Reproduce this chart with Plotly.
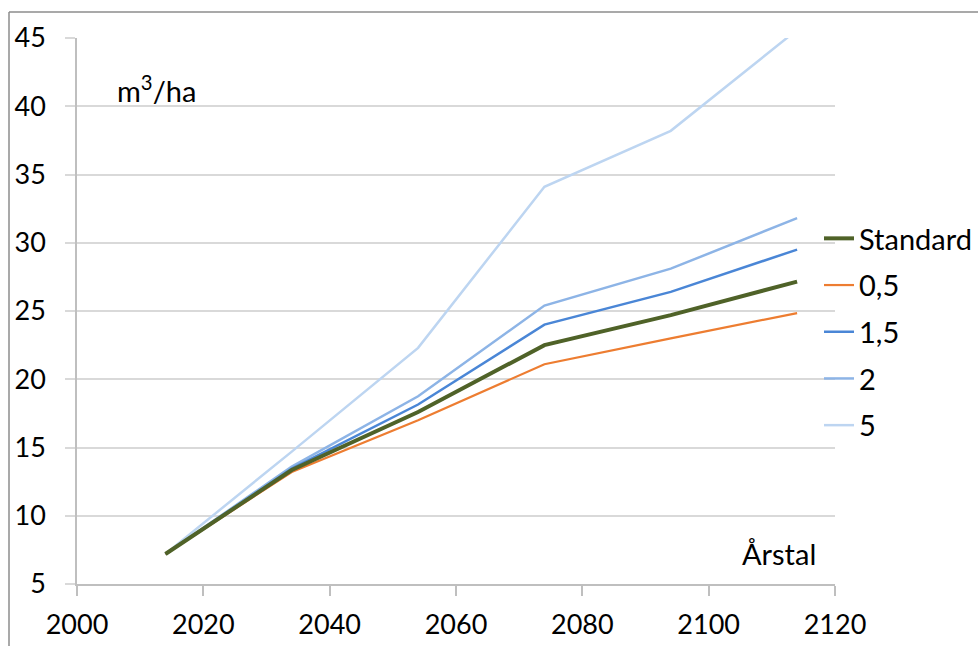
import plotly.graph_objects as go

# Simulation years and volume per hectare for each scenario
years = [2014, 2034, 2054, 2074, 2094, 2114]

standard = [7.2, 13.35, 17.6, 22.5, 24.7, 27.15]
s_0_5 = [7.2, 13.2, 17.0, 21.1, 23.0, 24.85]
s_1_5 = [7.2, 13.45, 18.15, 24.0, 26.4, 29.5]
s_2 = [7.2, 13.6, 18.75, 25.4, 28.1, 31.8]
s_5 = [7.2, 14.7, 22.3, 34.1, 38.2, 45.6]

series_names = ["Standard", "0,5", "1,5", "2", "5"]
series_values = [standard, s_0_5, s_1_5, s_2, s_5]
series_colors = ["#4F6228", "#ED7D31", "#4A86D6", "#8DB4E6", "#BDD5F1"]
series_widths = [4, 2.2, 2.5, 2.5, 2.5]

x_ticks = [2000, 2020, 2040, 2060, 2080, 2100, 2120]
y_ticks = [5, 10, 15, 20, 25, 30, 35, 40, 45]

FONT = "Lato"
GRID = "#D9D9D9"
AXIS = "#BFBFBF"

fig = go.Figure()

# Draw the light series first so the darker ones sit on top
for i in reversed(range(len(series_names))):
    fig.add_trace(go.Scatter(
        x=years, y=series_values[i], name=series_names[i], mode="lines",
        line=dict(color=series_colors[i], width=series_widths[i]),
        legendrank=i + 1, legendgroup=series_names[i],
    ))

W, H = 978, 646
L, R, T, B = 77, 143, 38, 62
pw, ph = W - L - R, H - T - B


def px_x(px):
    return (px - L) / pw


def px_y(py):
    return (H - B - py) / ph


fig.update_layout(
    width=W, height=H,
    margin=dict(l=L, r=R, t=T, b=B, autoexpand=False),
    paper_bgcolor="white", plot_bgcolor="white",
    font=dict(family=FONT, color="#000000", size=26),
    showlegend=True,
    legend=dict(
        x=px_x(819), y=px_y(213), xanchor="left", yanchor="top",
        font=dict(size=29, family=FONT), itemwidth=30,
        tracegroupgap=6, bgcolor="rgba(0,0,0,0)",
        traceorder="grouped",
    ),
    xaxis=dict(
        range=[2000, 2120], tickvals=x_ticks, showgrid=False,
        showline=True, linecolor=AXIS, linewidth=1.5,
        ticks="outside", ticklen=10, tickcolor=AXIS, tickwidth=1.5,
        tickfont=dict(size=27, family=FONT), ticklabelstandoff=6,
        zeroline=False, fixedrange=True,
    ),
    yaxis=dict(
        range=[5, 45], tickvals=y_ticks, showgrid=True, gridcolor=GRID,
        gridwidth=1.5, showline=True, linecolor=AXIS, linewidth=1.5,
        ticks="outside", ticklen=10, tickcolor=GRID, tickwidth=1.5,
        tickfont=dict(size=27, family=FONT), ticklabelstandoff=14,
        zeroline=False, fixedrange=True,
    ),
    annotations=[
        dict(text="m<sup>3</sup>/ha", xref="paper", yref="paper",
             x=px_x(115), y=px_y(89), xanchor="left", yanchor="middle",
             showarrow=False, font=dict(size=29, family=FONT)),
        dict(text="Årstal", xref="paper", yref="paper",
             x=px_x(818), y=px_y(553), xanchor="right", yanchor="middle",
             showarrow=False, font=dict(size=29, family=FONT)),
    ],
    shapes=[
        dict(type="line", xref="paper", yref="paper",
             x0=px_x(9), x1=px_x(990), y0=px_y(12), y1=px_y(12),
             line=dict(color="#8C8C8C", width=1.5)),
        dict(type="line", xref="paper", yref="paper",
             x0=px_x(9), x1=px_x(9), y0=px_y(12), y1=px_y(660),
             line=dict(color="#8C8C8C", width=1.5)),
    ],
)

fig.write_html("out.html")
